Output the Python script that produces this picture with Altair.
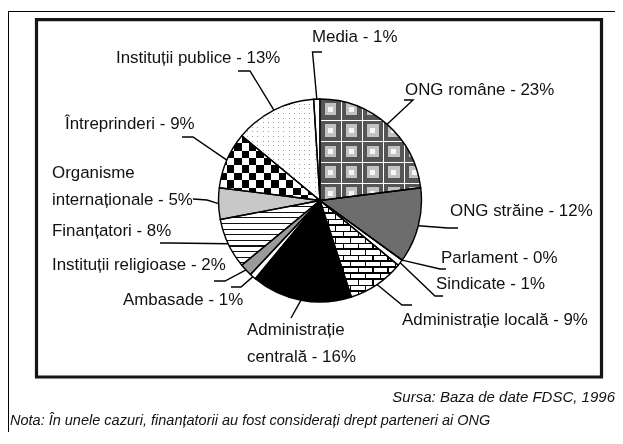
import math
import altair as alt
import pandas as pd

# ---------------- data ----------------
categories = ["ONG române", "ONG străine", "Parlament", "Sindicate", "Administrație locală",
              "Administrație centrală", "Ambasade", "Instituții religioase", "Finanțatori",
              "Organisme internaționale", "Întreprinderi", "Instituții publice", "Media"]
values = [23, 12, 0, 1, 9, 16, 1, 2, 8, 5, 9, 13, 1]
label_lines = [["ONG române - 23%"], ["ONG străine - 12%"], ["Parlament - 0%"], ["Sindicate - 1%"],
               ["Administrație locală - 9%"], ["Administrație", "centrală - 16%"], ["Ambasade - 1%"],
               ["Instituții religioase - 2%"], ["Finanțatori - 8%"], ["Organisme", "internaționale - 5%"],
               ["Întreprinderi - 9%"], ["Instituții publice - 13%"], ["Media - 1%"]]
source_text = "Sursa: Baza de date FDSC, 1996"
note_text = "Nota: În unele cazuri, finanțatorii au fost considerați drept parteneri ai ONG"

# ---------------- layout / style ----------------
W, H = 607, 424
OFF = 8
CX, CY, R = 320 - OFF, 200.5 - OFF, 101.5
FONT = "Liberation Sans, Arial, sans-serif"
FS = 16.9
LINE_GAP = 26.5
T = "rgba(255,255,255,0)"

slice_fills = ["#8c8c8c", "#6d6d6d", "#ffffff", "#ffffff", "#ffffff", "#000000", "#ffffff",
               "#9a9a9a", "#ffffff", "#c8c8c8", "#ffffff", "#ffffff", "#ffffff"]

label_pos = {  # page coords: left x, middle y of first line
    "ONG române": (405, 90), "ONG străine": (450, 211), "Parlament": (441, 258),
    "Sindicate": (436, 284), "Administrație locală": (402, 320),
    "Administrație centrală": (247, 330), "Ambasade": (123, 300),
    "Instituții religioase": (52, 265), "Finanțatori": (52, 231),
    "Organisme internaționale": (52, 173), "Întreprinderi": (65, 124),
    "Instituții publice": (116, 57.5), "Media": (312, 37.3),
}
leader_pts = {  # page coords: elbow, end
    "ONG române": [(413, 100), (404, 100)], "ONG străine": [(448, 228), (458, 228)],
    "Parlament": [(440, 269), (446, 269)], "Sindicate": [(435, 296), (443, 296)],
    "Administrație locală": [(402, 305), (412, 305)], "Administrație centrală": [(291, 318)],
    "Ambasade": [(241, 287), (231, 287)], "Instituții religioase": [(225, 281), (214, 281)],
    "Finanțatori": [(170, 243), (160, 243)], "Organisme internaționale": [(207, 200), (193, 199)],
    "Întreprinderi": [(193, 137), (182, 137)], "Instituții publice": [(250, 71), (238, 71)],
    "Media": [(312.5, 52), (322, 52)],
}

# ---------------- helpers ----------------
total = sum(values)
cum_end = []
acc = 0
for v in values:
    acc += v
    cum_end.append(acc)
frac = {c: ((e - v) / total, e / total) for c, v, e in zip(categories, values, cum_end)}


def wedge_bbox(name):
    f0, f1 = frac[name]
    a0, a1 = f0 * 2 * math.pi, f1 * 2 * math.pi
    angs = [a0, a1] + [k * math.pi / 2 for k in range(5) if a0 < k * math.pi / 2 < a1]
    xs = [0] + [R * math.sin(a) for a in angs]
    ys = [0] + [-R * math.cos(a) for a in angs]
    return max(xs) - min(xs), max(ys) - min(ys)


def grad(name, axis, period, segs):
    bw, bh = wedge_bbox(name)
    length = bw if axis == "x" else bh
    stops = []
    k = -1
    while k * period < length + period:
        for s, e, col in segs:
            a = max(0.0, (k * period + s) / length)
            b = min(1.0, (k * period + e) / length)
            if b > a:
                stops.append({"offset": round(a, 5), "color": col})
                stops.append({"offset": round(b, 5), "color": col})
        k += 1
    return {"gradient": "linear", "x1": 0, "y1": 0,
            "x2": 1 if axis == "x" else 0, "y2": 1 if axis == "y" else 0, "stops": stops}


df = pd.DataFrame({"category": categories, "value": values, "idx": list(range(len(categories)))})

pie = alt.Chart(df).transform_window(
    cum="sum(value)", sort=[alt.SortField("idx")]
).transform_joinaggregate(tot="sum(value)").transform_calculate(
    t0="(datum.cum - datum.value) / datum.tot", t1="datum.cum / datum.tot"
)
theta_enc = dict(
    theta=alt.Theta("t0:Q", scale=alt.Scale(domain=[0, 1], range=[0, 2 * math.pi]), stack=False),
    theta2="t1:Q", x=alt.value(CX), y=alt.value(CY),
)


def pattern(name, fill, blend=None):
    kw = dict(fill=fill, outerRadius=R)
    if blend:
        kw["blend"] = blend
    return pie.transform_filter(alt.datum.category == name).mark_arc(**kw).encode(**theta_enc)


base = pie.mark_arc(outerRadius=R).encode(
    color=alt.Color("category:N", scale=alt.Scale(domain=categories, range=slice_fills), legend=None),
    **theta_enc)

layers_pat = []
# ONG române: concentric squares on grey with white grid
p = 21
prof = [(0, 4.5, "#555555"), (4.5, 8, "#c2c2c2"), (8, 13, "#f6f6f6"), (13, 16.5, "#c2c2c2"), (16.5, 21, "#555555")]
layers_pat += [
    pattern("ONG române", grad("ONG române", "x", p, prof)),
    pattern("ONG române", grad("ONG române", "y", p, prof), "darken"),
    pattern("ONG române", grad("ONG române", "x", p, [(0, 1.3, "#ffffff"), (1.3, p, T)])),
    pattern("ONG române", grad("ONG române", "y", p, [(0, 1.3, "#ffffff"), (1.3, p, T)])),
]
# Întreprinderi: checkerboard
c = 7.4
layers_pat += [
    pattern("Întreprinderi", grad("Întreprinderi", "y", 2 * c, [(0, c, "#000000"), (c, 2 * c, "#ffffff")])),
    pattern("Întreprinderi", grad("Întreprinderi", "x", 2 * c, [(0, c, "#ffffff"), (c, 2 * c, T)]), "difference"),
]
# Administrație locală: bricks
rh, bw_ = 6, 15
nm = "Administrație locală"
layers_pat += [
    pattern(nm, grad(nm, "y", 2 * rh, [(0, rh, "#000000"), (rh, 2 * rh, "#ffffff")])),
    pattern(nm, grad(nm, "x", bw_, [(0, bw_ / 2, T), (bw_ / 2, bw_ / 2 + 1.2, "#ffffff"), (bw_ / 2 + 1.2, bw_, T)]), "difference"),
    pattern(nm, grad(nm, "x", bw_, [(0, 1.2, "#000000"), (1.2, bw_ / 2, "#ffffff"),
                                    (bw_ / 2, bw_ / 2 + 1.2, "#000000"), (bw_ / 2 + 1.2, bw_, "#ffffff")]), "lighten"),
    pattern(nm, grad(nm, "y", rh, [(0, 1.2, "#000000"), (1.2, rh, T)])),
]
# Finanțatori: horizontal stripes
layers_pat.append(pattern("Finanțatori", grad("Finanțatori", "y", 5.6, [(0, 1.2, "#111111"), (1.2, 5.6, "#ffffff")])))
# Instituții publice: faint dots
layers_pat += [
    pattern("Instituții publice", grad("Instituții publice", "y", 4.6, [(0, 1, "#a0a0a0"), (1, 4.6, "#ffffff")])),
    pattern("Instituții publice", grad("Instituții publice", "x", 5.2, [(0, 1, "#a0a0a0"), (1, 5.2, "#ffffff")]), "lighten"),
]

outline = pie.mark_arc(outerRadius=R, filled=False, stroke="#000000", strokeWidth=1.4).encode(**theta_enc)

# leader lines
rows = []
for cname in categories:
    f0, f1 = frac[cname]
    a = (f0 + f1) * math.pi
    pts = [(CX + R * math.sin(a), CY - R * math.cos(a))] + [(x - OFF, y - OFF) for x, y in leader_pts[cname]]
    for i, (x, y) in enumerate(pts):
        rows.append({"category": cname, "o": i, "px": x, "py": y})
lead_df = pd.DataFrame(rows)
xs = alt.Scale(domain=[0, W], nice=False, zero=False)
ys = alt.Scale(domain=[H, 0], nice=False, zero=False)
leaders = alt.Chart(lead_df).mark_line(color="#000000", strokeWidth=1.4).encode(
    x=alt.X("px:Q", scale=xs, axis=None), y=alt.Y("py:Q", scale=ys, axis=None),
    detail="category:N", order="o:Q")

# labels
trows = []
for cname, lines in zip(categories, label_lines):
    lx, ly = label_pos[cname]
    for i, t in enumerate(lines):
        trows.append({"tx": lx - OFF, "ty": ly - OFF + i * LINE_GAP, "text": t})
txt_df = pd.DataFrame(trows)
labels = alt.Chart(txt_df).mark_text(align="left", baseline="middle", font=FONT, fontSize=FS,
                                     color="#111111").encode(
    x=alt.X("tx:Q", scale=xs, axis=None), y=alt.Y("ty:Q", scale=ys, axis=None), text="text:N")

foot = pd.DataFrame({"s": [source_text], "n": [note_text]})
source = alt.Chart(foot).mark_text(align="right", baseline="middle", font=FONT, fontSize=15,
                                   fontStyle="italic", color="#111111").encode(
    x=alt.value(615 - OFF), y=alt.value(397 - OFF), text="s:N")
note = alt.Chart(foot).mark_text(align="left", baseline="middle", font=FONT, fontSize=14.5,
                                 fontStyle="italic", color="#111111").encode(
    x=alt.value(10 - OFF), y=alt.value(421 - OFF), text="n:N")

# frames
frame_top = alt.Chart(foot).mark_rule(color="#000000", strokeWidth=1).encode(
    x=alt.value(0), x2=alt.value(W), y=alt.value(11.5 - OFF))
frame_left = alt.Chart(foot).mark_rule(color="#000000", strokeWidth=1).encode(
    x=alt.value(8.5 - OFF), y=alt.value(11.5 - OFF), y2=alt.value(H))
inner = alt.Chart(foot).mark_rect(filled=False, stroke="#151515", strokeWidth=3.2).encode(
    x=alt.value(36.5 - OFF), x2=alt.value(601.5 - OFF), y=alt.value(19.7 - OFF), y2=alt.value(377 - OFF))

chart = alt.layer(
    frame_top, frame_left, inner, base, *layers_pat, outline, leaders, labels, source, note
).properties(width=W, height=H, padding=0, autosize="none", background="white").configure_view(strokeWidth=0)

chart.save("out.html", embed_options={"renderer": "svg", "actions": False})
